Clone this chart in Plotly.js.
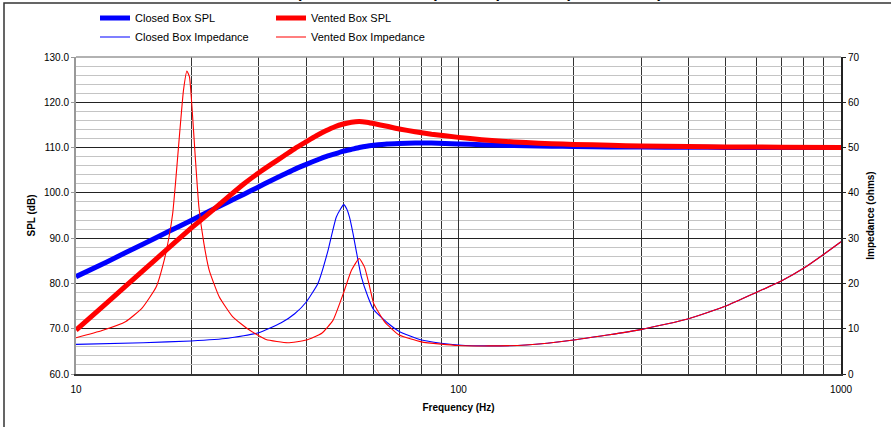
<!DOCTYPE html>
<html><head><meta charset="utf-8">
<script src="https://cdn.plot.ly/plotly-3.0.1.min.js"></script>
<style>html,body{margin:0;padding:0;background:#fff}#chart{width:891px;height:427px}</style>
</head><body><div id="chart"></div>
<script>
// ---- data ----
const freqSPL = [10,12,15,17.5,20,22.5,25,27.5,30,32.5,35,37.5,40,42.5,45,47.5,50,52.5,55,57.5,60,65,70,77,85,100,115,130,150,175,200,250,300,400,500,700,1000];
const splClosed = [81.5,84.7,88.7,91.5,93.9,96.1,98.0,99.7,101.3,102.8,104.1,105.3,106.3,107.2,108.0,108.6,109.2,109.6,110.0,110.3,110.5,110.8,110.9,111.0,111.0,110.8,110.65,110.5,110.4,110.3,110.25,110.15,110.1,110.06,110.04,110.02,110.0];
const splVented = [69.7,75.6,82.9,87.9,92.2,95.8,99.1,102.0,104.4,106.4,108.2,109.9,111.3,112.6,113.7,114.6,115.2,115.6,115.75,115.6,115.3,114.7,114.1,113.5,112.95,112.25,111.75,111.4,111.1,110.85,110.7,110.5,110.35,110.25,110.15,110.08,110.04];

const freqZClosed = [10,15,20,25,30,34.4,37.3,40,42.9,45.6,46.7,47.9,49.2,50.1,51,51.9,53,54,55.7,58,60,65.4,70,80,90,100,120,150,200,300,400,500,600,700,800,900,1000];
const zClosed = [6.55,6.9,7.3,7.9,9.1,11.3,13.3,15.9,20.0,27.3,31.0,34.6,36.5,37.4,36.5,34.6,31.0,27.3,21.5,17.0,14.2,11.2,9.4,7.5,6.8,6.4,6.2,6.4,7.5,9.8,12.2,15.0,18.0,20.6,23.4,26.4,29.2];

const freqZVented = [10,11.7,13.5,14.9,16.2,17.0,17.5,17.9,18.2,18.6,19.1,19.5,19.8,20.1,20.5,20.95,21.6,22.3,23.7,25.7,28.4,31.4,35.8,40,43.9,47,50,52.5,55,56.8,58.6,60,64.1,70,80,90,100,120,150,200,300,400,500,600,700,800,900,1000];
const zVented = [8.0,9.6,11.6,14.6,19.2,25.1,30.2,35.5,42.1,51.7,62.7,66.9,65.6,59.0,48.0,37.0,28.8,22.9,17.0,12.6,9.7,7.6,6.9,7.5,9.0,11.9,17.8,22.9,25.5,23.6,19.2,15.6,11.5,8.6,7.1,6.6,6.3,6.2,6.4,7.5,9.8,12.2,15.0,18.0,20.6,23.4,26.4,29.2];

const xTickVals = [10,100,1000];
const xTickText = ['10','100','1000'];
const xMinorVals = [20,30,40,50,60,70,80,90,200,300,400,500,600,700,800,900];
const seriesNames = ['Closed Box SPL','Vented Box SPL','Closed Box Impedance','Vented Box Impedance'];
const titleText = 'SPL (Closed vs Vented) and Impedance (Vented Box)';

// ---- layout helpers (pixel -> paper) ----
const W=891, H=427, ML=76, MR=50, MT=57, MB=53;
const PW=W-ML-MR, PH=H-MT-MB;
const px = v => (v-ML)/PW;
const py = v => (H-MB-v)/PH;

const FONT = '"Liberation Sans", Arial, Helvetica, sans-serif';
const sm = {shape:'spline', smoothing:0.45};

const traces = [
  {x:freqSPL, y:splClosed, mode:'lines', name:seriesNames[0], legend:'legend', line:Object.assign({color:'#0000ff', width:5}, sm), hoverinfo:'skip'},
  {x:freqSPL, y:splVented, mode:'lines', name:seriesNames[1], legend:'legend', line:Object.assign({color:'#ff0000', width:5}, sm), hoverinfo:'skip'},
  {x:freqZClosed, y:zClosed, mode:'lines', name:seriesNames[2], legend:'legend2', yaxis:'y2', line:Object.assign({color:'#0000ff', width:1.1}, sm), hoverinfo:'skip'},
  {x:freqZVented, y:zVented, mode:'lines', name:seriesNames[3], legend:'legend2', yaxis:'y2', line:Object.assign({color:'#ff0000', width:1.1}, sm), hoverinfo:'skip'}
];

const legendBase = {orientation:'h', xanchor:'left', yanchor:'middle', entrywidth:131, entrywidthmode:'pixels',
  font:{family:FONT, size:11, color:'#000'}, bgcolor:'rgba(0,0,0,0)', borderwidth:0, traceorder:'normal', itemclick:false};

const layout = {
  width:W, height:H, margin:{l:ML, r:MR, t:MT, b:MB, pad:0, autoexpand:false},
  paper_bgcolor:'#ffffff', plot_bgcolor:'#ffffff',
  font:{family:FONT, size:10, color:'#000'},
  showlegend:true,
  xaxis:{type:'log', range:[1,3], tickmode:'array', tickvals:xTickVals, ticktext:xTickText,
    showgrid:true, gridcolor:'#333', gridwidth:1,
    minor:{tickmode:'array', tickvals:xMinorVals, showgrid:true, gridcolor:'#333', gridwidth:1, ticks:''},
    showline:true, linecolor:'#333', linewidth:2, ticks:'', ticklabelstandoff:5, zeroline:false,
    tickfont:{size:10}, automargin:false,
    title:{text:'<b>Frequency (Hz)</b>', font:{size:10}, standoff:10}},
  yaxis:{range:[60,130], tick0:60, dtick:10, tickformat:'.1f',
    showgrid:true, gridcolor:'#222', gridwidth:1,
    minor:{dtick:2, showgrid:true, gridcolor:'#c4c4c4', gridwidth:1, ticks:''},
    showline:true, linecolor:'#999', linewidth:2, ticks:'outside', ticklen:3, tickcolor:'#999',
    zeroline:false, tickfont:{size:10}, automargin:false,
    title:{text:'<b>SPL (dB)</b>', font:{size:10}, standoff:6}},
  yaxis2:{overlaying:'y', side:'right', range:[0,70], tick0:0, dtick:10, showgrid:false,
    showline:true, linecolor:'#222', linewidth:2, ticks:'outside', ticklen:3, tickcolor:'#222',
    zeroline:false, tickfont:{size:10}, automargin:false,
    title:{text:'<b>Impedance (ohms)</b>', font:{size:10}, standoff:8}},
  legend:Object.assign({x:px(95), y:py(18)}, legendBase),
  legend2:Object.assign({x:px(95), y:py(37)}, legendBase),
  annotations:[{text:'<b>'+titleText+'</b>', xref:'paper', yref:'paper', x:px(462), y:py(8.5), yshift:6,
    xanchor:'center', yanchor:'bottom', showarrow:false, font:{family:FONT, size:16, color:'#000'}}],
  shapes:[
    {type:'rect', xref:'paper', yref:'paper', x0:px(4), x1:px(905), y0:py(445), y1:py(3), line:{color:'#333', width:1.5}, layer:'above'},
    {type:'line', xref:'paper', yref:'paper', x0:0, x1:1, y0:1, y1:1, line:{color:'#999', width:1.5}, layer:'above'}
  ]
};

Plotly.newPlot('chart', traces, layout, {displayModeBar:false, staticPlot:true});
</script>
</body></html>
